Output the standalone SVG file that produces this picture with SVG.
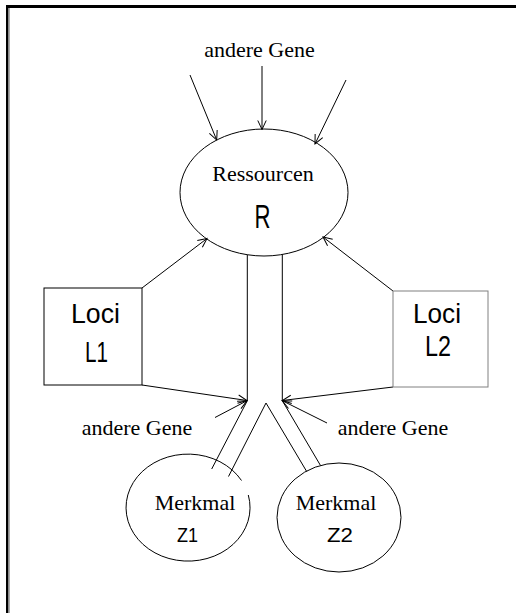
<svg xmlns="http://www.w3.org/2000/svg" width="516" height="613" viewBox="0 0 516 613">
<style>
.ln{stroke:#000;stroke-width:1;fill:none}
.ser{font-family:"Liberation Serif","Times New Roman",serif;font-size:22px;fill:#000;text-anchor:middle}
.san{font-family:"Liberation Sans",Arial,sans-serif;fill:#000;text-anchor:middle}
</style>
<defs>
<marker id="ah" markerUnits="userSpaceOnUse" markerWidth="12" markerHeight="12" viewBox="0 0 12 12" refX="10" refY="5" orient="auto">
<path d="M1,0.8 L10,5 L1,9.2" fill="none" stroke="#000" stroke-width="1"/>
</marker>
</defs>
<rect width="516" height="613" fill="#fff"/>
<g id="frame">
<rect x="6" y="5" width="510" height="3" fill="#000"/>
<rect x="6" y="5" width="2.5" height="608" fill="#000"/>
<rect x="8.5" y="8" width="1.3" height="605" fill="#999"/>
</g>
<g id="connectors">
<line class="ln" x1="190" y1="75" x2="216.7" y2="140" marker-end="url(#ah)"/>
<line class="ln" x1="262" y1="66" x2="262" y2="129.5" marker-end="url(#ah)"/>
<line class="ln" x1="346" y1="80" x2="315" y2="144" marker-end="url(#ah)"/>
<line class="ln" x1="142" y1="288" x2="207" y2="238.5" marker-end="url(#ah)"/>
<line class="ln" x1="393" y1="291" x2="323" y2="237" marker-end="url(#ah)"/>
<line class="ln" x1="142" y1="385" x2="247" y2="400.5" marker-end="url(#ah)"/>
<line class="ln" x1="393" y1="387" x2="282.3" y2="400.5" marker-end="url(#ah)"/>
<line class="ln" x1="215" y1="417.5" x2="247" y2="400.7" marker-end="url(#ah)"/>
<line class="ln" x1="327" y1="423" x2="282.3" y2="400.7" marker-end="url(#ah)"/>
<polyline class="ln" points="247.3,254.7 247.3,400.7 211.7,469"/>
<polyline class="ln" points="282.3,254.5 282.3,400.7 320.5,465.5"/>
<polyline class="ln" points="228.5,476.5 266,403 306.7,471.5"/>
</g>
<g id="ressourcen">
<ellipse class="ln" cx="264" cy="192.5" rx="84" ry="63.5"/>
<text class="ser" x="263" y="181">Ressourcen</text>
<text class="san" x="262.5" y="228" font-size="33" textLength="16" lengthAdjust="spacingAndGlyphs">R</text>
</g>
<g id="andere-gene-top">
<text class="ser" x="259.5" y="57">andere Gene</text>
</g>
<g id="loci-l1">
<rect x="44" y="288" width="98" height="97" fill="none" stroke="#000" stroke-width="1"/>
<text class="san" x="95.5" y="323" font-size="28.5" textLength="49" lengthAdjust="spacingAndGlyphs">Loci</text>
<text class="san" x="96.5" y="362" font-size="29.5" textLength="23" lengthAdjust="spacingAndGlyphs">L1</text>
</g>
<g id="loci-l2">
<rect x="393" y="291" width="95" height="96" fill="none" stroke="#808080" stroke-width="1"/>
<text class="san" x="437" y="323" font-size="28.5" textLength="48" lengthAdjust="spacingAndGlyphs">Loci</text>
<text class="san" x="438" y="356" font-size="29.5" textLength="26" lengthAdjust="spacingAndGlyphs">L2</text>
</g>
<g id="andere-gene-left">
<text class="ser" x="137" y="435">andere Gene</text>
</g>
<g id="andere-gene-right">
<text class="ser" x="393" y="435">andere Gene</text>
</g>
<g id="merkmal-z1">
<path class="ln" d="M248.3,495 A62,53.5 0 1 1 241.5,480.5"/>
<text class="ser" x="195" y="510">Merkmal</text>
<text class="san" x="187.5" y="542" font-size="19.5" textLength="21" lengthAdjust="spacingAndGlyphs">Z1</text>
</g>
<g id="merkmal-z2">
<ellipse class="ln" cx="339" cy="517.5" rx="62" ry="54.5"/>
<text class="ser" x="336" y="510">Merkmal</text>
<text class="san" x="340" y="542" font-size="19.5" textLength="26" lengthAdjust="spacingAndGlyphs">Z2</text>
</g>
</svg>
